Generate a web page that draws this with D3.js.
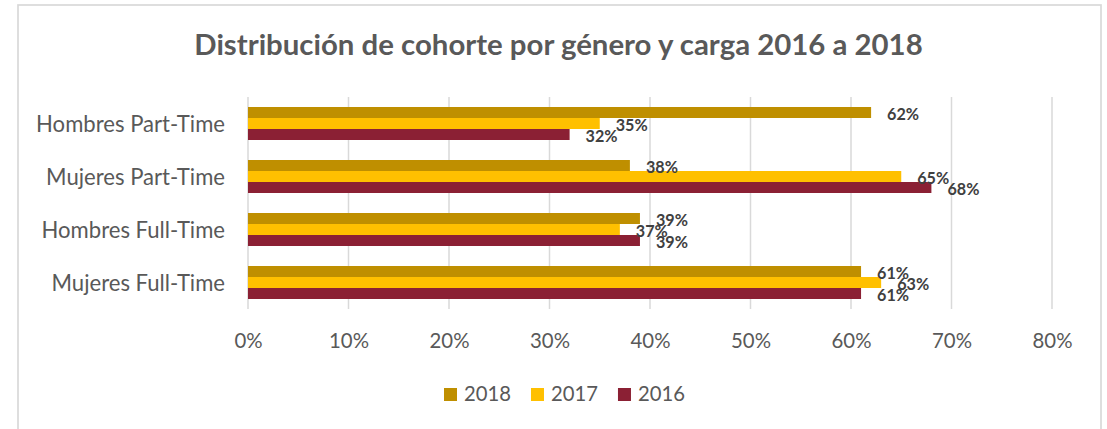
<!DOCTYPE html>
<html>
<head>
<meta charset="utf-8">
<script src="https://cdn.jsdelivr.net/npm/d3@7"></script>
<style>
  html, body { margin: 0; padding: 0; background: #fff; }
  svg { display: block; }
  text { font-family: Lato, "Open Sans", sans-serif; }
</style>
</head>
<body>
<svg id="chart" width="1107" height="429"></svg>
<script>
// ---- data ----
const title = "Distribución de cohorte por género y carga 2016 a 2018";
const categories = ["Hombres Part-Time", "Mujeres Part-Time", "Hombres Full-Time", "Mujeres Full-Time"];
const seriesNames = ["2018", "2017", "2016"];
const values2018 = [0.62, 0.38, 0.39, 0.61];
const values2017 = [0.35, 0.65, 0.37, 0.63];
const values2016 = [0.32, 0.68, 0.39, 0.61];
const tickValues = [0, 0.1, 0.2, 0.3, 0.4, 0.5, 0.6, 0.7, 0.8];
const colors = ["#BF8F00", "#FFC000", "#8B2034"];

const seriesValues = { "2018": values2018, "2017": values2017, "2016": values2016 };

const svg = d3.select("#chart");

// fit a text element's font size to a target width
function fitWidth(sel, target) {
  const node = sel.node();
  const fs = parseFloat(sel.attr("font-size"));
  const w = node.getComputedTextLength();
  const nfs = fs * target / w;
  sel.attr("font-size", nfs);
  return nfs;
}
function measure(str, fs, weight) {
  const t = svg.append("text").attr("font-size", fs).attr("font-weight", weight || "normal").text(str);
  const w = t.node().getComputedTextLength();
  t.remove();
  return w;
}

// chart border
svg.append("rect")
  .attr("x", 18).attr("y", 5).attr("width", 1083).attr("height", 440)
  .attr("fill", "#fff").attr("stroke", "#D9D9D9").attr("stroke-width", 1.7);

// title
const titleText = svg.append("text")
  .attr("x", 558.5).attr("y", 55)
  .attr("text-anchor", "middle")
  .attr("font-size", 26).attr("font-weight", "bold")
  .attr("fill", "#595959")
  .text(title);
fitWidth(titleText, 729);

// scales
const x = d3.scaleLinear().domain([0, 0.8]).range([248, 1052]);
const y0 = d3.scaleBand().domain(categories).range([97, 309]).padding(0);
const y1 = d3.scaleBand().domain(seriesNames).range([10, 43]).padding(0);

// gridlines
svg.append("g").selectAll("line")
  .data(tickValues)
  .join("line")
  .attr("x1", d => x(d)).attr("x2", d => x(d))
  .attr("y1", 97).attr("y2", 309)
  .attr("stroke", "#D9D9D9").attr("stroke-width", 1.5);

// x axis tick labels
const tickFs = (function(){ const w = measure("10%", 20); return 20 * 40 / w; })();
const xAxis = d3.axisBottom(x).tickValues(tickValues).tickFormat(d3.format(".0%")).tickSize(0).tickPadding(0);
const gx = svg.append("g").attr("transform", "translate(0,0)").call(xAxis);
gx.select(".domain").remove();
gx.selectAll("text")
  .attr("y", 348).attr("dy", null)
  .attr("font-size", tickFs)
  .attr("font-family", "Lato, 'Open Sans', sans-serif")
  .attr("fill", "#595959");

// y axis category labels
const catFs = (function(){ const w = measure("Hombres Part-Time", 20); return 20 * 189 / w; })();
const yAxis = d3.axisLeft(y0).tickSize(0).tickPadding(0);
const gy = svg.append("g").call(yAxis);
gy.select(".domain").remove();
gy.selectAll("text")
  .attr("x", 225).attr("dy", null)
  .attr("y", 8)
  .attr("text-anchor", "end")
  .attr("font-size", catFs)
  .attr("font-family", "Lato, 'Open Sans', sans-serif")
  .attr("fill", "#595959");

// bars
const groups = svg.append("g").selectAll("g")
  .data(categories)
  .join("g")
  .attr("transform", d => `translate(0,${y0(d)})`);

const barData = (c, i) => seriesNames.map(s => ({ cat: c, series: s, value: seriesValues[s][i] }));

groups.selectAll("rect")
  .data((c, i) => barData(c, i))
  .join("rect")
  .attr("x", x(0))
  .attr("y", d => y1(d.series))
  .attr("width", d => x(d.value) - x(0))
  .attr("height", y1.bandwidth())
  .attr("fill", d => colors[seriesNames.indexOf(d.series)]);

// data labels
const lblFs = (function(){ const w = measure("62%", 16, "bold"); return 16 * 32 / w; })();
groups.selectAll("text.lbl")
  .data((c, i) => barData(c, i))
  .join("text")
  .attr("class", "lbl")
  .attr("x", d => x(d.value) + 16)
  .attr("y", d => y1(d.series) + y1.bandwidth() / 2 + 7)
  .attr("font-size", lblFs)
  .attr("font-weight", "bold")
  .attr("fill", "#404040")
  .text(d => d3.format(".0%")(d.value));

// legend
const legFs = (function(){ const w = measure("2018", 20); return 20 * 47 / w; })();
const legend = svg.append("g");
let lx = 444;
seriesNames.forEach((s, i) => {
  legend.append("rect")
    .attr("x", lx).attr("y", 388).attr("width", 13).attr("height", 13)
    .attr("fill", colors[i]);
  const t = legend.append("text")
    .attr("x", lx + 20).attr("y", 401)
    .attr("font-size", legFs)
    .attr("fill", "#595959")
    .text(s);
  lx += 20 + t.node().getComputedTextLength() + 20;
});
</script>
</body>
</html>
